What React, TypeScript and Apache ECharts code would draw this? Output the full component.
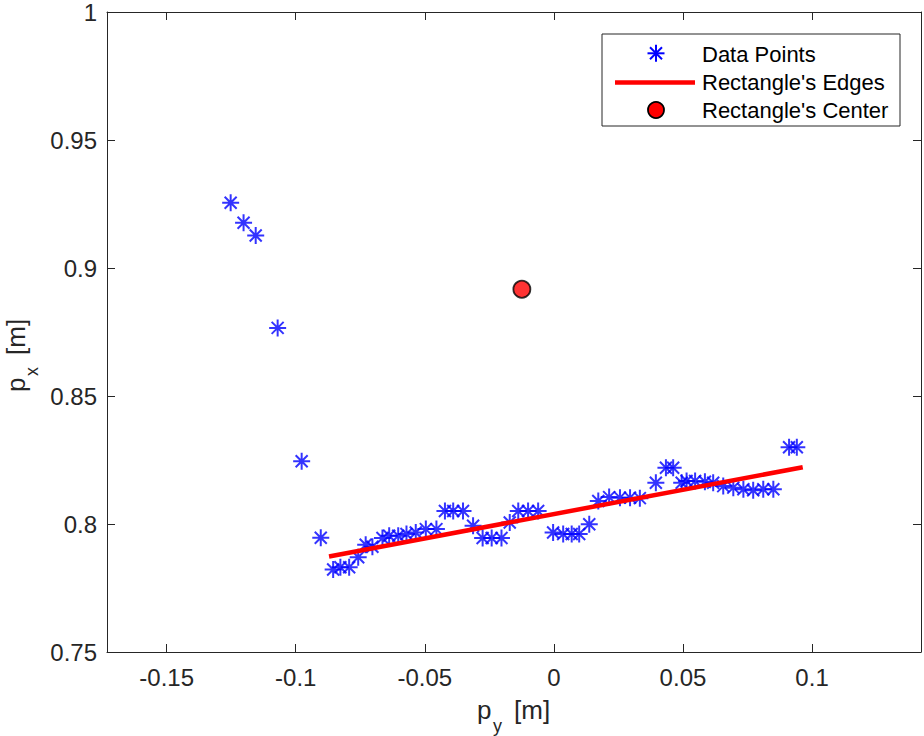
import React, { useEffect, useRef } from "react";
import * as echarts from "echarts";

// p_y [m] (horizontal) values of the measured points
const pyValues = [
  -0.1252, -0.1202, -0.1155, -0.107, -0.0977, -0.0903, -0.0855, -0.0827, -0.0793, -0.0758,
  -0.0729, -0.0703, -0.0664, -0.0638, -0.0603, -0.0571, -0.0535, -0.0496, -0.0455, -0.0422,
  -0.039, -0.0352, -0.0313, -0.0276, -0.0241, -0.0203, -0.0171, -0.0138, -0.01, -0.0061,
  -0.0003, 0.0036, 0.0069, 0.0098, 0.0137, 0.0172, 0.0214, 0.0256, 0.0295, 0.0333,
  0.0395, 0.0434, 0.0462, 0.0495, 0.0514, 0.0547, 0.0585, 0.0617, 0.0656, 0.0695,
  0.0734, 0.0772, 0.0811, 0.085, 0.0911, 0.0941,
];
// p_x [m] (vertical) values of the measured points
const pxValues = [
  0.9255, 0.9177, 0.9127, 0.8766, 0.8245, 0.7946, 0.7822, 0.7831, 0.7831, 0.787,
  0.7919, 0.7911, 0.7945, 0.7954, 0.7954, 0.7961, 0.7967, 0.798, 0.798, 0.8051,
  0.8051, 0.8051, 0.7993, 0.7945, 0.7945, 0.7945, 0.8006, 0.8051, 0.8051, 0.8051,
  0.7967, 0.7961, 0.7961, 0.7961, 0.7999, 0.809, 0.8105, 0.8103, 0.8103, 0.8101,
  0.8161, 0.822, 0.822, 0.8161, 0.8168, 0.8168, 0.8165, 0.8161, 0.8148, 0.8142,
  0.8136, 0.8132, 0.8136, 0.8136, 0.83, 0.83,
];
// Rectangle's edge (fitted line) end points
const edgePy = [-0.0871, 0.0964];
const edgePx = [0.7873, 0.8222];
// Rectangle's center
const centerPy = [-0.0124];
const centerPx = [0.8917];

const xTicks = [-0.15, -0.1, -0.05, 0, 0.05, 0.1];
const legendNames = ["Data Points", "Rectangle's Edges", "Rectangle's Center"];

const FONT = "'Liberation Sans', Arial, Helvetica, sans-serif";
const AX = "#262626";
const STAR = "path://M8.5 0 L8.5 17 M0 8.5 L17 8.5 M2.5 2.5 L14.5 14.5 M2.5 14.5 L14.5 2.5";

const fmt = (v: number) => String(parseFloat(Number(v).toFixed(2)));

export default function App() {
  const ref = useRef<HTMLDivElement>(null);
  useEffect(() => {
    if (!ref.current) return;
    const chart = echarts.init(ref.current, undefined, { renderer: "svg" });
    const pts = pyValues.map((x, i) => [x, pxValues[i]]);
    const edge = edgePy.map((x, i) => [x, edgePx[i]]);
    const center = centerPy.map((x, i) => [x, centerPx[i]]);

    const xMin = -0.1731;
    const xMax = 0.1422;

    const lx = 602, ly = 34;
    const rowY = [54.5, 82.5, 110];
    const symX = 656;

    const option: any = {
      animation: false,
      backgroundColor: "#ffffff",
      grid: { left: 107, right: 3, top: 8, bottom: 84, containLabel: false },
      xAxis: [
        {
          type: "value",
          position: "bottom",
          min: xMin,
          max: xMax,
          axisLine: { show: true, onZero: false, lineStyle: { color: AX, width: 1 } },
          axisTick: { show: true, inside: true, length: 8, lineStyle: { color: AX }, customValues: xTicks },
          axisLabel: {
            show: true,
            customValues: xTicks,
            formatter: fmt,
            color: AX,
            fontSize: 24,
            fontFamily: FONT,
            margin: 13,
          },
          splitLine: { show: false },
        },
        {
          type: "value",
          position: "top",
          min: xMin,
          max: xMax,
          axisLine: { show: true, onZero: false, lineStyle: { color: AX, width: 1 } },
          axisTick: { show: true, inside: true, length: 8, lineStyle: { color: AX }, customValues: xTicks },
          axisLabel: { show: false },
          splitLine: { show: false },
        },
      ],
      yAxis: [
        {
          type: "value",
          position: "left",
          min: 0.75,
          max: 1,
          interval: 0.05,
          axisLine: { show: true, onZero: false, lineStyle: { color: AX, width: 1 } },
          axisTick: { show: true, inside: true, length: 8, lineStyle: { color: AX } },
          axisLabel: { formatter: fmt, color: AX, fontSize: 24, fontFamily: FONT, margin: 10 },
          splitLine: { show: false },
        },
        {
          type: "value",
          position: "right",
          min: 0.75,
          max: 1,
          interval: 0.05,
          axisLine: { show: true, onZero: false, lineStyle: { color: AX, width: 1 } },
          axisTick: { show: true, inside: true, length: 8, lineStyle: { color: AX } },
          axisLabel: { show: false },
          splitLine: { show: false },
        },
      ],
      series: [
        {
          name: legendNames[0],
          type: "scatter",
          data: pts,
          symbol: STAR,
          symbolSize: 17,
          itemStyle: { color: "transparent", borderColor: "#0000ff", borderWidth: 2 },
          z: 2,
        },
        {
          name: legendNames[1],
          type: "line",
          data: edge,
          symbol: "none",
          lineStyle: { color: "#ff0000", width: 4.5 },
          z: 3,
        },
        {
          name: legendNames[2],
          type: "scatter",
          data: center,
          symbol: "circle",
          symbolSize: 17,
          itemStyle: { color: "#ff0000", borderColor: "#000000", borderWidth: 1.8 },
          z: 4,
        },
      ],
      graphic: [
        // x axis name
        {
          type: "group",
          x: 0,
          y: 0,
          children: [
            { type: "text", x: 477, y: 710, style: { text: "p", fontSize: 26, fontFamily: FONT, fill: AX, align: "left", verticalAlign: "middle" } },
            { type: "text", x: 493, y: 725.5, style: { text: "y", fontSize: 18, fontFamily: FONT, fill: AX, align: "left", verticalAlign: "middle" } },
            { type: "text", x: 514, y: 710, style: { text: "[m]", fontSize: 26, fontFamily: FONT, fill: AX, align: "left", verticalAlign: "middle" } },
          ],
        },
        // y axis name (rotated)
        {
          type: "group",
          x: 24.5,
          y: 392,
          rotation: Math.PI / 2,
          children: [
            { type: "text", x: 0, y: -9, style: { text: "p", fontSize: 26, fontFamily: FONT, fill: AX, align: "left", verticalAlign: "middle" } },
            { type: "text", x: 16, y: 7.3, style: { text: "x", fontSize: 18, fontFamily: FONT, fill: AX, align: "left", verticalAlign: "middle" } },
            { type: "text", x: 37, y: -9, style: { text: "[m]", fontSize: 26, fontFamily: FONT, fill: AX, align: "left", verticalAlign: "middle" } },
          ],
        },
        // legend
        {
          type: "group",
          x: 0,
          y: 0,
          z: 100,
          children: [
            { type: "rect", shape: { x: lx, y: ly, width: 298, height: 92 }, style: { fill: "#ffffff", stroke: AX, lineWidth: 1 } },
            { type: "line", shape: { x1: symX, y1: rowY[0] - 1.2 - 8.5, x2: symX, y2: rowY[0] - 1.2 + 8.5 }, style: { stroke: "#0000ff", lineWidth: 2 } },
            { type: "line", shape: { x1: symX - 8.5, y1: rowY[0] - 1.2, x2: symX + 8.5, y2: rowY[0] - 1.2 }, style: { stroke: "#0000ff", lineWidth: 2 } },
            { type: "line", shape: { x1: symX - 6, y1: rowY[0] - 7.2, x2: symX + 6, y2: rowY[0] + 4.8 }, style: { stroke: "#0000ff", lineWidth: 2 } },
            { type: "line", shape: { x1: symX - 6, y1: rowY[0] + 4.8, x2: symX + 6, y2: rowY[0] - 7.2 }, style: { stroke: "#0000ff", lineWidth: 2 } },
            { type: "line", shape: { x1: 615, y1: rowY[1], x2: 695, y2: rowY[1] }, style: { stroke: "#ff0000", lineWidth: 4.5 } },
            { type: "circle", shape: { cx: symX, cy: rowY[2], r: 8 }, style: { fill: "#ff0000", stroke: "#000000", lineWidth: 1.8 } },
            ...legendNames.map((n, i) => ({
              type: "text",
              x: 702,
              y: rowY[i],
              style: { text: n, fontSize: 22, fontFamily: FONT, fill: "#000000", align: "left", verticalAlign: "middle" },
            })),
          ],
        },
      ],
    };
    chart.setOption(option);
    return () => chart.dispose();
  }, []);
  return (
    <div
      ref={ref}
      style={{ position: "absolute", left: 0, top: 0, width: 924, height: 736, background: "#fff" }}
    />
  );
}
